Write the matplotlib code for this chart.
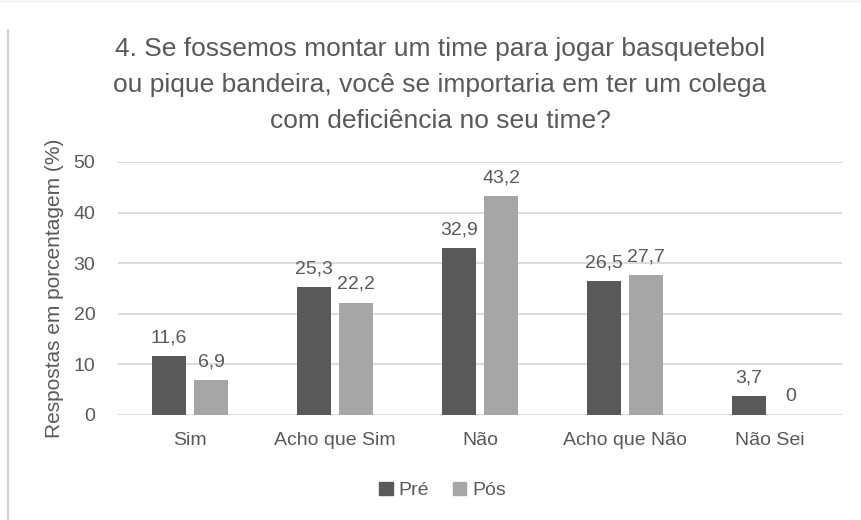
import matplotlib
matplotlib.use("Agg")
import matplotlib.pyplot as plt
import numpy as np
from matplotlib.lines import Line2D

categories = ["Sim", "Acho que Sim", "Não", "Acho que Não", "Não Sei"]
pre = [11.6, 25.3, 32.9, 26.5, 3.7]
pos = [6.9, 22.2, 43.2, 27.7, 0]
series_names = ["Pré", "Pós"]
yticks = [0, 10, 20, 30, 40, 50]
title = ("4. Se fossemos montar um time para jogar basquetebol\n"
         "ou pique bandeira, você se importaria em ter um colega\n"
         "com deficiência no seu time?")
ylabel = "Respostas em porcentagem (%)"

plt.rcParams['font.family'] = ['Liberation Sans', 'DejaVu Sans']
txt = '#595959'
c_pre = '#595959'
c_pos = '#a6a6a6'

fig = plt.figure(figsize=(8.61, 5.2), dpi=100)
ax = fig.add_axes([0.1365, 0.202, 0.842, 0.4865])

x = np.arange(len(categories))
w = 0.23
off = 0.145
b1 = ax.bar(x - off, pre, w, color=c_pre, label=series_names[0], zorder=3)
b2 = ax.bar(x + off, pos, w, color=c_pos, label=series_names[1], zorder=3)

for bars, vals in ((b1, pre), (b2, pos)):
    for r, v in zip(bars, vals):
        ax.annotate(f"{v:g}".replace('.', ','), (r.get_x() + r.get_width() / 2, r.get_height()),
                    xytext=(0, 7), textcoords='offset points', ha='center', va='bottom',
                    fontsize=14, color=txt)

ax.set_xlim(-0.5, len(categories) - 0.5)
ax.set_ylim(0, 50)
ax.set_yticks(yticks)
ax.set_yticklabels([str(t) for t in yticks], fontsize=14, color=txt)
ax.set_xticks(x)
ax.set_xticklabels(categories, fontsize=14, color=txt)
ax.tick_params(axis='both', length=0)
ax.tick_params(axis='y', pad=16)
ax.tick_params(axis='x', pad=12)
ax.yaxis.grid(True, color='#d9d9d9', linewidth=1.3, zorder=0)
for s in ax.spines.values():
    s.set_visible(False)
ax.set_ylabel(ylabel, fontsize=15, color=txt, labelpad=7)

fig.text(0.511, 0.929, title, ha='center', va='top', fontsize=19, color=txt, linespacing=1.64)

handles = [plt.Rectangle((0, 0), 1, 1, color=c_pre), plt.Rectangle((0, 0), 1, 1, color=c_pos)]
fig.legend(handles, series_names, loc='center', bbox_to_anchor=(0.514, 0.057), ncol=2,
           frameon=False, fontsize=14, labelcolor=txt, handlelength=0.7, handleheight=0.7,
           handletextpad=0.3, columnspacing=1.2)

fig.add_artist(Line2D([8 / 861, 8 / 861], [0, 490 / 520], transform=fig.transFigure,
                      color='#d0d0d0', linewidth=1.5))
fig.add_artist(Line2D([0, 1], [0.999, 0.999], transform=fig.transFigure,
                      color='#efefef', linewidth=1.0))

fig.savefig("out.png", dpi=100, facecolor='white')
